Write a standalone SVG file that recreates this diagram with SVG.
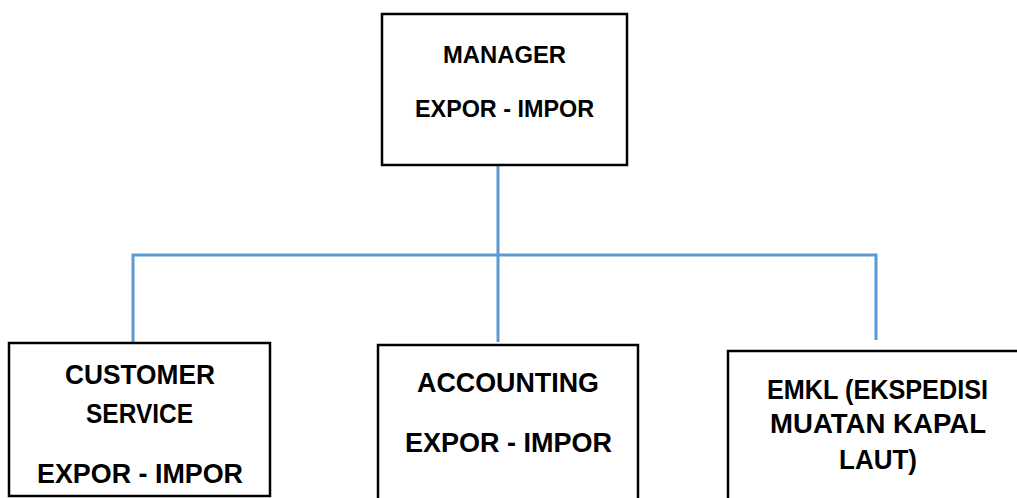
<svg xmlns="http://www.w3.org/2000/svg" width="1017" height="498" viewBox="0 0 1017 498">
<style>
.box{fill:#fff;stroke:#000;stroke-width:2.5}
.t{font-family:"Liberation Sans",Arial,sans-serif;font-weight:bold;fill:#000;text-anchor:middle}
.c{fill:none;stroke:#5B9BD5;stroke-width:3}
</style>
<rect width="1017" height="498" fill="#fff"/>
<g id="connectors">
<path class="c" d="M498 165V255"/>
<path class="c" d="M133 342V255H876V340"/>
<path class="c" d="M498 255V342"/>
</g>
<g id="manager">
<rect class="box" x="382" y="14" width="245" height="151"/>
<text class="t" x="504.5" y="62.5" font-size="24.5" textLength="123" lengthAdjust="spacingAndGlyphs">MANAGER</text>
<text class="t" x="504.5" y="116.5" font-size="24.5" textLength="179" lengthAdjust="spacingAndGlyphs">EXPOR - IMPOR</text>
</g>
<g id="customer-service">
<rect class="box" x="9" y="343" width="261" height="153"/>
<text class="t" x="140" y="384" font-size="27.5" textLength="150" lengthAdjust="spacingAndGlyphs">CUSTOMER</text>
<text class="t" x="139.5" y="422.5" font-size="27.5" textLength="107" lengthAdjust="spacingAndGlyphs">SERVICE</text>
<text class="t" x="140" y="482.5" font-size="27.5" textLength="206" lengthAdjust="spacingAndGlyphs">EXPOR - IMPOR</text>
</g>
<g id="accounting">
<rect class="box" x="378" y="345" width="260" height="160"/>
<text class="t" x="508" y="391.5" font-size="27.5" textLength="182" lengthAdjust="spacingAndGlyphs">ACCOUNTING</text>
<text class="t" x="508.5" y="451.5" font-size="27.5" textLength="207" lengthAdjust="spacingAndGlyphs">EXPOR - IMPOR</text>
</g>
<g id="emkl">
<rect class="box" x="728" y="351" width="300" height="160"/>
<text class="t" x="877.5" y="398.5" font-size="27" textLength="221" lengthAdjust="spacingAndGlyphs">EMKL (EKSPEDISI</text>
<text class="t" x="878" y="433" font-size="27" textLength="216" lengthAdjust="spacingAndGlyphs">MUATAN KAPAL</text>
<text class="t" x="878" y="469" font-size="27" textLength="78" lengthAdjust="spacingAndGlyphs">LAUT)</text>
</g>
</svg>
